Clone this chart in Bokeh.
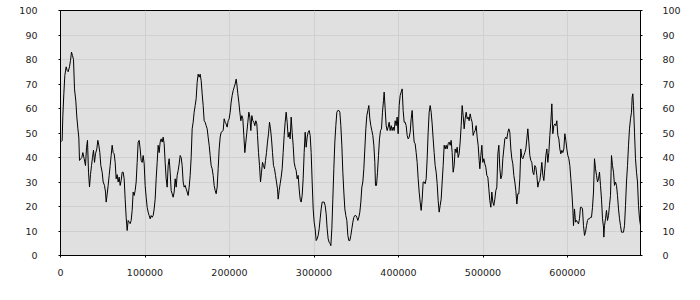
from bokeh.plotting import figure
from bokeh.models import LinearAxis, SingleIntervalTicker, BasicTickFormatter, Range1d
from bokeh.embed import file_html
from bokeh.resources import INLINE

# x positions (thousands) and series values
x_thousands = [
    0.00, 1.97, 2.76, 3.95, 5.13, 6.71, 7.89, 9.07, 10.65, 11.83, 13.02, 14.20, 15.39, 16.57, 18.15, 19.33,
    20.51, 21.70, 22.49, 24.06, 25.25, 26.43, 28.01, 29.59, 30.77, 31.95, 33.14, 34.32, 35.50, 36.69, 37.87,
    39.05, 40.24, 41.42, 43.00, 44.18, 45.37, 46.55, 47.73, 49.31, 50.49, 52.07, 53.26, 54.04, 55.23, 56.41,
    57.59, 58.78, 59.96, 61.14, 62.33, 63.51, 64.70, 65.88, 67.06, 68.25, 69.43, 70.61, 71.80, 72.98, 74.16,
    75.35, 76.53, 77.71, 78.90, 80.08, 81.26, 82.45, 83.63, 84.81, 86.00, 87.18, 88.36, 89.55, 90.73, 91.91,
    93.10, 94.28, 95.46, 96.65, 97.83, 99.02, 100.20, 101.38, 102.57, 103.75, 104.93, 106.12, 107.30, 108.48,
    109.67, 110.85, 112.03, 113.22, 114.40, 115.58, 116.77, 117.95, 119.13, 120.32, 121.50, 122.68, 123.87,
    125.05, 126.23, 127.42, 128.60, 129.78, 130.97, 132.15, 133.33, 134.52, 135.70, 136.88, 138.07, 139.25,
    140.43, 141.62, 142.80, 143.98, 145.17, 146.35, 147.53, 148.72, 149.90, 151.08, 152.27, 153.45, 154.63,
    155.82, 157.00, 158.18, 159.37, 160.55, 161.74, 162.92, 164.10, 165.29, 166.47, 167.65, 168.84, 170.02,
    171.20, 172.39, 173.57, 174.75, 175.94, 177.12, 178.30, 179.49, 180.67, 181.85, 183.04, 184.22, 185.40,
    186.59, 187.77, 188.95, 190.14, 191.32, 192.50, 193.69, 194.87, 196.06, 197.24, 198.42, 199.61, 200.79,
    201.97, 203.16, 204.34, 205.52, 206.71, 207.89, 208.68, 209.86, 211.05, 212.23, 213.41, 214.60, 215.78,
    216.96, 218.15, 219.33, 220.51, 221.70, 222.88, 224.06, 225.25, 226.43, 227.61, 228.80, 229.98, 231.16,
    232.35, 233.14, 234.32, 235.51, 236.69, 237.87, 239.06, 240.24, 241.42, 242.61, 243.79, 244.97, 246.16,
    247.34,
    248.52, 249.71, 250.89, 252.07, 253.26, 254.44, 255.62, 256.81, 257.59, 258.78, 259.96, 261.15, 262.33,
    263.51, 264.70, 265.88, 267.06, 268.25, 269.43, 270.61, 271.80, 272.98, 274.16, 275.35, 276.53, 277.71,
    278.90, 280.08, 281.26, 282.45, 283.63, 284.81, 286.00, 287.18, 288.36, 289.55, 290.73, 291.91, 293.10,
    294.28, 295.47, 296.65, 297.83, 299.02, 300.20, 301.38, 302.57, 303.75, 304.93, 306.12, 307.30, 308.48,
    309.67, 310.85, 312.03, 313.22, 314.40, 315.58, 316.77, 317.95, 319.13, 319.92, 321.10, 322.29, 323.47,
    324.66, 325.84, 327.02, 328.21, 329.39, 330.57, 331.76, 332.94, 334.12, 335.31, 336.49, 337.67, 338.86,
    340.04, 341.22, 342.41, 343.59, 344.77, 345.96, 347.14, 348.32, 349.51, 350.69, 351.87, 353.06, 354.24,
    355.43, 356.61, 357.79, 358.98, 360.16, 361.34, 362.53, 363.71, 364.89, 366.08, 367.26, 368.44, 369.63,
    370.81, 371.99,
    372.78, 373.96, 375.15, 376.33, 377.51, 378.70, 379.88, 381.06, 382.25, 383.04, 384.22, 385.40, 386.59,
    387.77, 388.95, 390.14, 391.32, 392.50, 393.69, 394.87, 396.06, 397.24, 398.42, 399.61, 400.79, 401.97,
    403.16, 404.34, 405.52, 406.71, 407.89, 409.07, 410.26, 411.44, 412.62, 413.81, 414.99, 416.17, 417.36,
    418.54, 419.72, 420.91, 422.09, 423.27, 424.46, 425.64, 426.82, 428.01, 429.19, 430.38, 431.56, 432.74,
    433.93, 435.11, 436.29, 437.48, 438.66, 439.84, 441.03, 442.21, 443.39, 444.58, 445.76, 446.94, 448.13,
    449.31, 450.49, 451.68, 452.86, 454.04, 455.23, 456.41, 457.59, 458.78, 459.96, 461.15, 462.33, 463.51,
    464.70, 465.88, 467.06, 468.25, 469.43, 470.61, 471.80, 472.98, 474.16, 475.35, 476.53, 477.71, 478.90,
    480.08, 481.26, 482.45, 483.63, 484.81, 486.00, 487.18, 488.36, 489.55, 490.73, 491.91, 493.10, 494.28,
    495.47,
    496.25, 497.44, 498.62, 499.80, 500.99, 502.17, 503.35, 504.54, 505.72, 506.90, 508.09, 509.27, 510.45,
    511.64, 512.82, 514.00, 515.19, 516.37, 517.55, 518.74, 519.92, 521.11, 522.29, 523.47, 524.66, 525.84,
    527.02, 528.21, 529.39, 530.57, 531.76, 532.94, 534.12, 535.31, 536.49, 537.67, 538.86, 540.04, 541.22,
    542.41, 543.59, 544.77, 545.96, 547.14, 548.32, 549.51, 550.69, 551.87, 553.06, 554.24, 555.43, 556.61,
    557.79, 558.98, 560.16, 561.34, 562.53, 563.71, 564.89, 566.08, 567.26, 568.44, 569.63, 570.81, 571.99,
    573.18, 574.36, 575.54, 576.73, 577.91, 579.09, 580.28, 581.46, 582.64, 583.83, 585.01, 586.19, 587.38,
    588.56, 589.74, 590.93, 592.11, 593.29, 594.48, 595.66, 596.85, 598.03, 599.21, 600.40, 601.58, 602.76,
    603.95, 605.13, 606.31, 607.10, 608.28, 609.47, 610.65, 611.83, 613.02, 614.20, 615.38, 616.57, 617.75,
    618.93, 620.12,
    621.30, 622.49, 623.67, 624.85, 626.04, 627.22, 628.40, 629.59, 630.77, 631.95, 633.14, 634.32, 635.50,
    636.69, 637.87, 639.05, 640.24, 641.42, 642.60, 642.99, 643.79, 644.97, 646.15, 647.34, 648.52, 649.70,
    650.89, 652.07, 653.25, 654.44, 655.62, 656.80, 657.99, 659.17, 660.36, 661.54, 662.72, 663.91, 665.09,
    666.27, 667.46, 668.64, 669.82, 671.01, 672.19, 673.37, 674.56, 675.74, 676.53, 677.32, 678.11, 679.29,
    680.47, 681.66, 682.84, 684.02, 685.21, 686.39,
]

values = [
    46.3, 47, 57, 66, 73.5, 77, 75.5, 75, 77, 79.6, 83, 81.6, 80, 68, 63, 56.5,
    52, 48, 38.8, 39.5, 40, 42, 39.5, 36.7, 44, 47, 34, 28, 33, 36.7, 40,
    43, 38, 41.5, 43.5, 47, 45, 42, 36.7, 34, 30, 28.6, 25.9, 21.8, 25, 28.6,
    32.7, 36.7, 40.8, 45, 42, 41.5, 38, 31.3, 33, 30, 32, 28.6, 30.6, 34, 34,
    31.3, 23, 15.6, 10.2, 14.3, 13.6, 13, 14.3, 18.4, 25.9, 24.5, 26.5, 30, 38, 46.3,
    47, 43.5, 38.8, 38, 40.8, 37.4, 28.6, 23.8, 19.7, 17.7, 16.3, 15, 16.3, 15.6,
    16.3, 19, 23, 31.3, 38, 45, 42, 46.3, 47.6, 46.3, 48.3, 45.6, 38,
    31.3, 27.9, 36.7, 39.5, 34, 26.5, 25.2, 23.8, 25.9, 31.3, 27.9, 32.7,
    34.7, 37.4, 40.8, 40, 36.7, 30, 27.9, 28.6, 27.2, 25.9, 24.5, 27.9, 32.7,
    40, 51.7, 54.4, 58.5, 61.2, 64, 70.7, 74, 72.8, 74, 71.4, 66, 61.2,
    55, 54.4, 53, 51.7, 48.3, 45, 40.8, 36.7, 35.4, 32.7, 28.6, 26.5, 25.2,
    27.9, 35.4, 43.5, 48.3, 50.3, 50.6, 51, 55.8, 54.4, 53.7, 52.4, 55, 55.8,
    58.5, 62.6, 65.3, 67.3, 68.7, 70, 72, 70, 66, 62.6, 58.5, 55, 57.1,
    55.8, 49, 42, 46.3, 50.3, 54.4, 58.5, 56.5, 51, 57.1, 55, 54.4, 53,
    55, 53.7, 49, 42, 36.7, 30, 34, 38, 36.7, 35.4, 38.8, 42, 46.3,
    49.7, 54.4,
    51.7, 47.6, 42, 36.7, 35.4, 32.7, 30, 27.2, 23, 26.5, 29.3, 32, 35.4,
    42, 49, 54.4, 58.5, 54.4, 48.3, 50.3, 47.6, 56.5, 50.3, 45, 38, 36,
    34.7, 31.3, 32.7, 27.2, 23, 21.8, 24.5, 31.3, 42, 50.3, 44.2, 48.3, 50.3,
    51, 49, 42, 30, 19, 13.6, 10.9, 6.1, 6.8, 8.2, 10.9, 15, 19,
    21.8, 21.8, 21.8, 20.4, 17, 10.9, 6.8, 5.4, 4.8, 4, 10.9, 23, 35.4,
    46.3, 53, 58.5, 59.2, 59.2, 58.5, 53, 45, 34, 25.9, 19, 16.3, 14.3,
    8.2, 6.1, 6.1, 8.2, 10.9, 13.6, 15.6, 16.3, 16.3, 15.6, 14.3, 15.6, 17.7,
    21.8, 27.9, 30, 35.4, 43.5, 51.7, 57.1, 59.2, 61.2, 55.8, 53, 51, 49,
    45, 38,
    28.6, 28.6, 34, 40.8, 47.6, 51, 51.7, 58.5, 63.3, 66.7, 59.9, 53, 51,
    52.4, 54.4, 51, 53, 51, 52.4, 51, 55, 53, 56.5, 49.7, 61.2, 65.3,
    66.7, 68, 59.2, 54.4, 54.4, 53, 49, 47.6, 48.3, 50.3, 55.8, 59.2, 51.7,
    46.3, 45.6, 42, 38, 31.3, 25.9, 21.8, 18.4, 23, 30, 30, 29.3, 31.3,
    39.5, 50.3, 58.5, 61.2, 58.5, 53.7, 47.6, 42, 36.7, 34, 29.3, 22.4, 17.7,
    20.4, 23, 30, 36.7, 45, 43.5, 45, 43.5, 45.6, 46.3, 45, 47, 42,
    34, 36.7, 43.5, 42, 44.2, 40, 41.5, 46.3, 53, 61.2, 57.1, 51.7, 55.8,
    58.5, 55.8, 56.5, 55, 57.8, 55.8, 54.4, 49, 50.3, 51, 53, 48.3, 45,
    38.8,
    35.4, 40.8, 45, 38, 39.5, 37.4, 36, 32.7, 32, 27.2, 22.4, 19.7, 25.9,
    21.8, 20.4, 23, 26.5, 27.9, 41.5, 45, 35.4, 31.3, 32.7, 39.5, 43.5, 47.6,
    48.3, 47.6, 50.3, 51.7, 50.3, 43.5, 39.5, 37.4, 32.7, 30, 26.5, 21, 25.2,
    25.2, 31.3, 43.5, 40, 39.5, 40.8, 42, 43.5, 47.6, 51.7, 46.3, 40.8, 38.8,
    38, 34, 33, 36.7, 36, 32.7, 27.9, 30, 30.6, 34, 38, 32.7, 30.6,
    35.4, 40.8, 43.5, 38, 42, 49, 54.4, 61.9, 49.7, 53, 53.7, 53, 55,
    49, 47.6, 43.5, 41.5, 42.9, 42, 43.5, 49.7, 47, 43.5, 40.8, 39.5, 36.7,
    31.3, 25.9, 19, 12.2, 19, 13.6, 14.3, 13.6, 12.9, 15, 19.7, 19.7, 19,
    12.2, 8.2,
    9.5, 12.2, 14.3, 15, 15, 15.6, 15.6, 19.7, 25.9, 39.5, 35.4, 32.7, 30,
    31.3, 34, 28.6, 23, 15, 11.6, 7.5, 12.2, 15, 18.4, 14.3, 16.3, 20.4,
    24.5, 40.8, 36.7, 34, 28.6, 30, 28.6, 24.5, 19, 15, 12.2, 9.5, 9.5,
    9.5, 12.2, 20.4, 30, 36.7, 45, 51.7, 55.8, 58.5, 64.6, 66, 61.2, 50.3,
    39.5, 34, 30, 20.4, 15, 12.2,
]

x_tick_step = 100000
y_tick_step = 10
y_min, y_max = 0, 100

xs = [v * 1000 for v in x_thousands]

p = figure(width=700, height=300, output_backend="svg", toolbar_location=None,
           x_range=Range1d(0, max(xs)), y_range=Range1d(y_min, y_max),
           min_border_left=60, min_border_right=60, min_border_top=10, min_border_bottom=45)
p.background_fill_color = "#e0e0e0"
p.border_fill_color = "white"
p.outline_line_color = "black"
p.outline_line_width = 1

p.line(xs, values, line_color="black", line_width=1)

right_axis = LinearAxis()
p.add_layout(right_axis, "right")

p.xaxis.ticker = SingleIntervalTicker(interval=x_tick_step, num_minor_ticks=0)
p.xaxis.formatter = BasicTickFormatter(use_scientific=False)
for ax in p.yaxis:
    ax.ticker = SingleIntervalTicker(interval=y_tick_step, num_minor_ticks=0)

for ax in list(p.xaxis) + list(p.yaxis):
    ax.axis_line_color = "black"
    ax.major_tick_line_color = "black"
    ax.major_tick_out = 2
    ax.major_tick_in = 0
    ax.minor_tick_line_color = None
    ax.major_label_text_font = "DejaVu Sans"
    ax.major_label_text_font_size = "9.5px"
    ax.major_label_text_color = "#222222"

p.xaxis.major_label_standoff = 11
p.yaxis[0].major_label_standoff = 21
right_axis.major_label_standoff = 20

p.xgrid.ticker = SingleIntervalTicker(interval=x_tick_step, num_minor_ticks=0)
p.ygrid.ticker = SingleIntervalTicker(interval=y_tick_step, num_minor_ticks=0)
p.grid.grid_line_color = "#d0d0d0"
p.grid.grid_line_width = 1

open("out.html", "w").write(file_html(p, INLINE))
